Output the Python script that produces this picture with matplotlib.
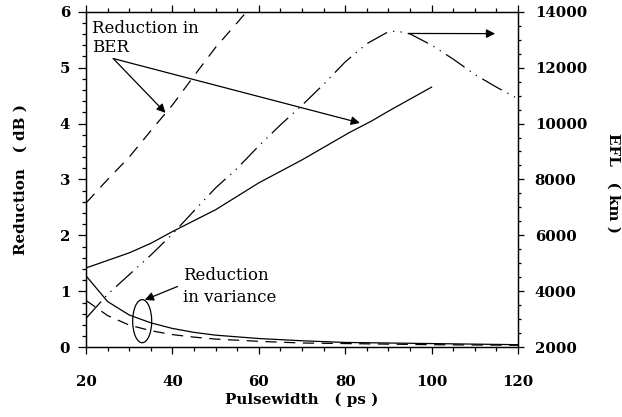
import matplotlib
matplotlib.use("Agg")
import matplotlib.pyplot as plt
from matplotlib.patches import Ellipse

plt.rcParams['font.family'] = ['DejaVu Serif']

# reduction in BER (dB), left axis
ber_x = [20, 25, 30, 35, 40, 45, 50, 55, 60]
ber_dashed = [2.58, 3.0, 3.40, 3.87, 4.33, 4.85, 5.36, 5.8, 6.25]
ber_solid_x = [20, 30, 35, 40, 50, 60, 70, 81, 86, 90, 100]
ber_solid = [1.42, 1.69, 1.86, 2.07, 2.46, 2.94, 3.35, 3.84, 4.04, 4.22, 4.65]

# reduction in variance (dB), left axis
var_x = [20, 25, 30, 35, 40, 45, 50, 60, 70, 80, 90, 100, 110, 120]
var_solid = [1.28, 0.82, 0.58, 0.44, 0.34, 0.27, 0.22, 0.16, 0.12, 0.09, 0.08, 0.07, 0.06, 0.05]
var_dashed = [0.84, 0.57, 0.40, 0.30, 0.23, 0.185, 0.15, 0.11, 0.08, 0.07, 0.06, 0.05, 0.045, 0.04]

# EFL (km), right axis
efl_x = [20, 25, 30, 35, 40, 45, 50, 55, 60, 65, 70, 75, 80, 85, 90, 92, 95, 100, 105, 110, 115, 120]
efl = [3040, 3900, 4600, 5300, 6050, 6880, 7700, 8400, 9200, 9950, 10650, 11400, 12200,
       12850, 13280, 13300, 13200, 12800, 12300, 11750, 11300, 10880]

fig = plt.figure(figsize=(6.22, 4.17), dpi=100)
ax = fig.add_axes([0.1383, 0.1667, 0.6945, 0.8057])
ax2 = ax.twinx()

lw = 0.9
ax.plot(ber_x, ber_dashed, color='black', lw=lw, linestyle=(0, (10, 7)))
ax.plot(ber_solid_x, ber_solid, color='black', lw=lw)
ax.plot(var_x, var_solid, color='black', lw=lw)
ax.plot(var_x, var_dashed, color='black', lw=lw, linestyle=(0, (9, 6)))
ax2.plot(efl_x, efl, color='black', lw=lw, linestyle=(0, (18, 5, 1, 5, 1, 5)))

ax.set_xlim(20, 120)
ax.set_ylim(0, 6)
ax2.set_ylim(2000, 14000)

ax.set_xticks([20, 40, 60, 80, 100, 120])
ax.set_xticks(range(20, 121, 5), minor=True)
ax.set_yticks(range(0, 7))
ax.set_yticks([i * 0.2 for i in range(31)], minor=True)
ax2.set_yticks(range(2000, 14001, 2000))
ax2.set_yticks(range(2000, 14001, 500), minor=True)

ax.tick_params(axis='x', which='both', direction='out', top=True, width=0.9)
ax.tick_params(axis='x', which='major', length=5, pad=15, labelsize=10.7)
ax.tick_params(axis='x', which='minor', length=3)
ax.tick_params(axis='y', which='major', direction='out', length=5.5, width=0.9, pad=6, labelsize=10.7)
ax.tick_params(axis='y', which='minor', direction='out', length=3, width=0.9)
ax2.tick_params(axis='y', which='major', direction='out', length=4, width=0.9, pad=8, labelsize=10.7)
ax2.tick_params(axis='y', which='minor', direction='out', length=2.5, width=0.9)
for lab in ax.get_xticklabels() + ax.get_yticklabels() + ax2.get_yticklabels():
    lab.set_fontweight('bold')
for a in (ax, ax2):
    for s in a.spines.values():
        s.set_linewidth(0.9)

ax.set_xlabel("Pulsewidth   ( ps )", fontsize=10.9, fontweight='bold', va='center')
ax.xaxis.set_label_coords(0.5, -0.157)
ax.set_ylabel("Reduction   ( dB )", fontsize=10.9, fontweight='bold', va='center')
ax.yaxis.set_label_coords(-0.152, 0.5)
ax2.set_ylabel("EFL   ( km )", fontsize=10.9, fontweight='bold', rotation=270, va='center')
ax2.yaxis.set_label_coords(1.22, 0.49)

# annotations
ax.text(21.3, 5.62, "Reduction in", fontsize=12)
ax.text(21.3, 5.27, "BER", fontsize=12)
arrow = dict(arrowstyle='-|>', lw=0.9, color='black', mutation_scale=13, shrinkA=0, shrinkB=0)
ax.annotate("", xy=(38.4, 4.19), xytext=(26.3, 5.16), arrowprops=arrow)
ax.annotate("", xy=(83.4, 4.01), xytext=(26.3, 5.16), arrowprops=arrow)

ax.text(42.4, 1.21, "Reduction", fontsize=12)
ax.text(42.4, 0.82, "in variance", fontsize=12)
ax.add_patch(Ellipse((33.0, 0.47), 4.4, 0.77, fill=False, color='black', lw=0.9))
ax.annotate("", xy=(33.6, 0.85), xytext=(41.2, 1.09), arrowprops=arrow)

ax2.annotate("", xy=(114.7, 13210), xytext=(94.6, 13216), arrowprops=arrow)

fig.savefig("out.png", dpi=100)
